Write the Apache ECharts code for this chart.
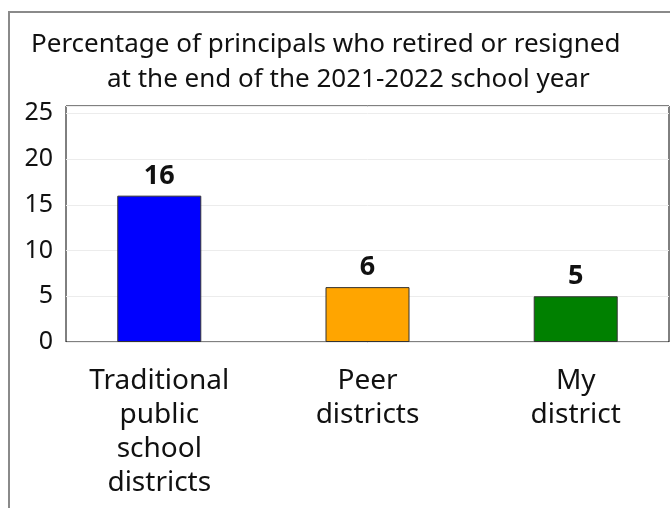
<!DOCTYPE html>
<html>
<head>
<meta charset="utf-8">
<script src="https://cdn.jsdelivr.net/npm/echarts@6/dist/echarts.min.js"></script>
<style>
  html, body { margin: 0; padding: 0; background: #fff; }
  #chart { width: 670px; height: 508px; }
</style>
</head>
<body>
<div id="chart"></div>
<script>
// Share of principals leaving after the 2021-2022 school year, by district group
const categories = ['Traditional\npublic\nschool\ndistricts', 'Peer\ndistricts', 'My\ndistrict'];
const values = [16, 6, 5];
const barColors = ['#0000ff', '#ffa500', '#008000'];
const yTicks = [0, 5, 10, 15, 20, 25];
const titleLines = [
  'Percentage of principals who retired or resigned',
  'at the end of the 2021-2022 school year'
];

const FONT = 'Noto Sans';
const chart = echarts.init(document.getElementById('chart'), null, { renderer: 'canvas' });

chart.setOption({
  animation: false,
  backgroundColor: '#fff',
  textStyle: { fontFamily: FONT },
  graphic: [{
    type: 'rect',
    shape: { x: 9, y: 12, width: 720, height: 600 },
    style: { fill: 'none', stroke: '#8a8a8a', lineWidth: 2 },
    silent: true,
    z: -10
  }],
  title: [
    {
      text: titleLines[0], left: 26, top: 27,
      textStyle: { fontFamily: FONT, fontSize: 26, fontWeight: 'normal', color: '#111' }
    },
    {
      text: titleLines[1], left: 102, top: 62,
      textStyle: { fontFamily: FONT, fontSize: 26, fontWeight: 'normal', color: '#111' }
    }
  ],
  grid: {
    left: 66, top: 106, width: 603, height: 236,
    show: true, borderColor: '#000', borderWidth: 1, backgroundColor: 'transparent',
    containLabel: false
  },
  xAxis: {
    type: 'value',
    min: -0.448, max: 2.448,
    axisLine: { show: false },
    axisTick: { show: false },
    splitLine: { show: false },
    axisLabel: {
      customValues: categories.map((_, i) => i),
      formatter: v => categories[Math.round(v)] ?? '',
      fontFamily: FONT, fontSize: 28, lineHeight: 34, color: '#111',
      margin: 22, align: 'center'
    }
  },
  yAxis: {
    type: 'value',
    min: 0, max: 25.8, interval: 5,
    axisLine: { show: false },
    axisTick: { show: false },
    splitLine: { show: true, lineStyle: { color: '#ececec', width: 1 } },
    axisLabel: {
      customValues: yTicks,
      fontFamily: FONT, fontSize: 25, color: '#111', margin: 13
    }
  },
  series: [{
    type: 'bar',
    barWidth: 84,
    data: values.map((v, i) => ({
      value: [i, v],
      itemStyle: { color: barColors[i], borderColor: '#333', borderWidth: 1 }
    })),
    label: {
      show: true, position: 'top', distance: 6,
      formatter: p => String(p.value[1]),
      fontFamily: FONT, fontSize: 27, fontWeight: 'bold', color: '#111'
    }
  }]
});
</script>
</body>
</html>
